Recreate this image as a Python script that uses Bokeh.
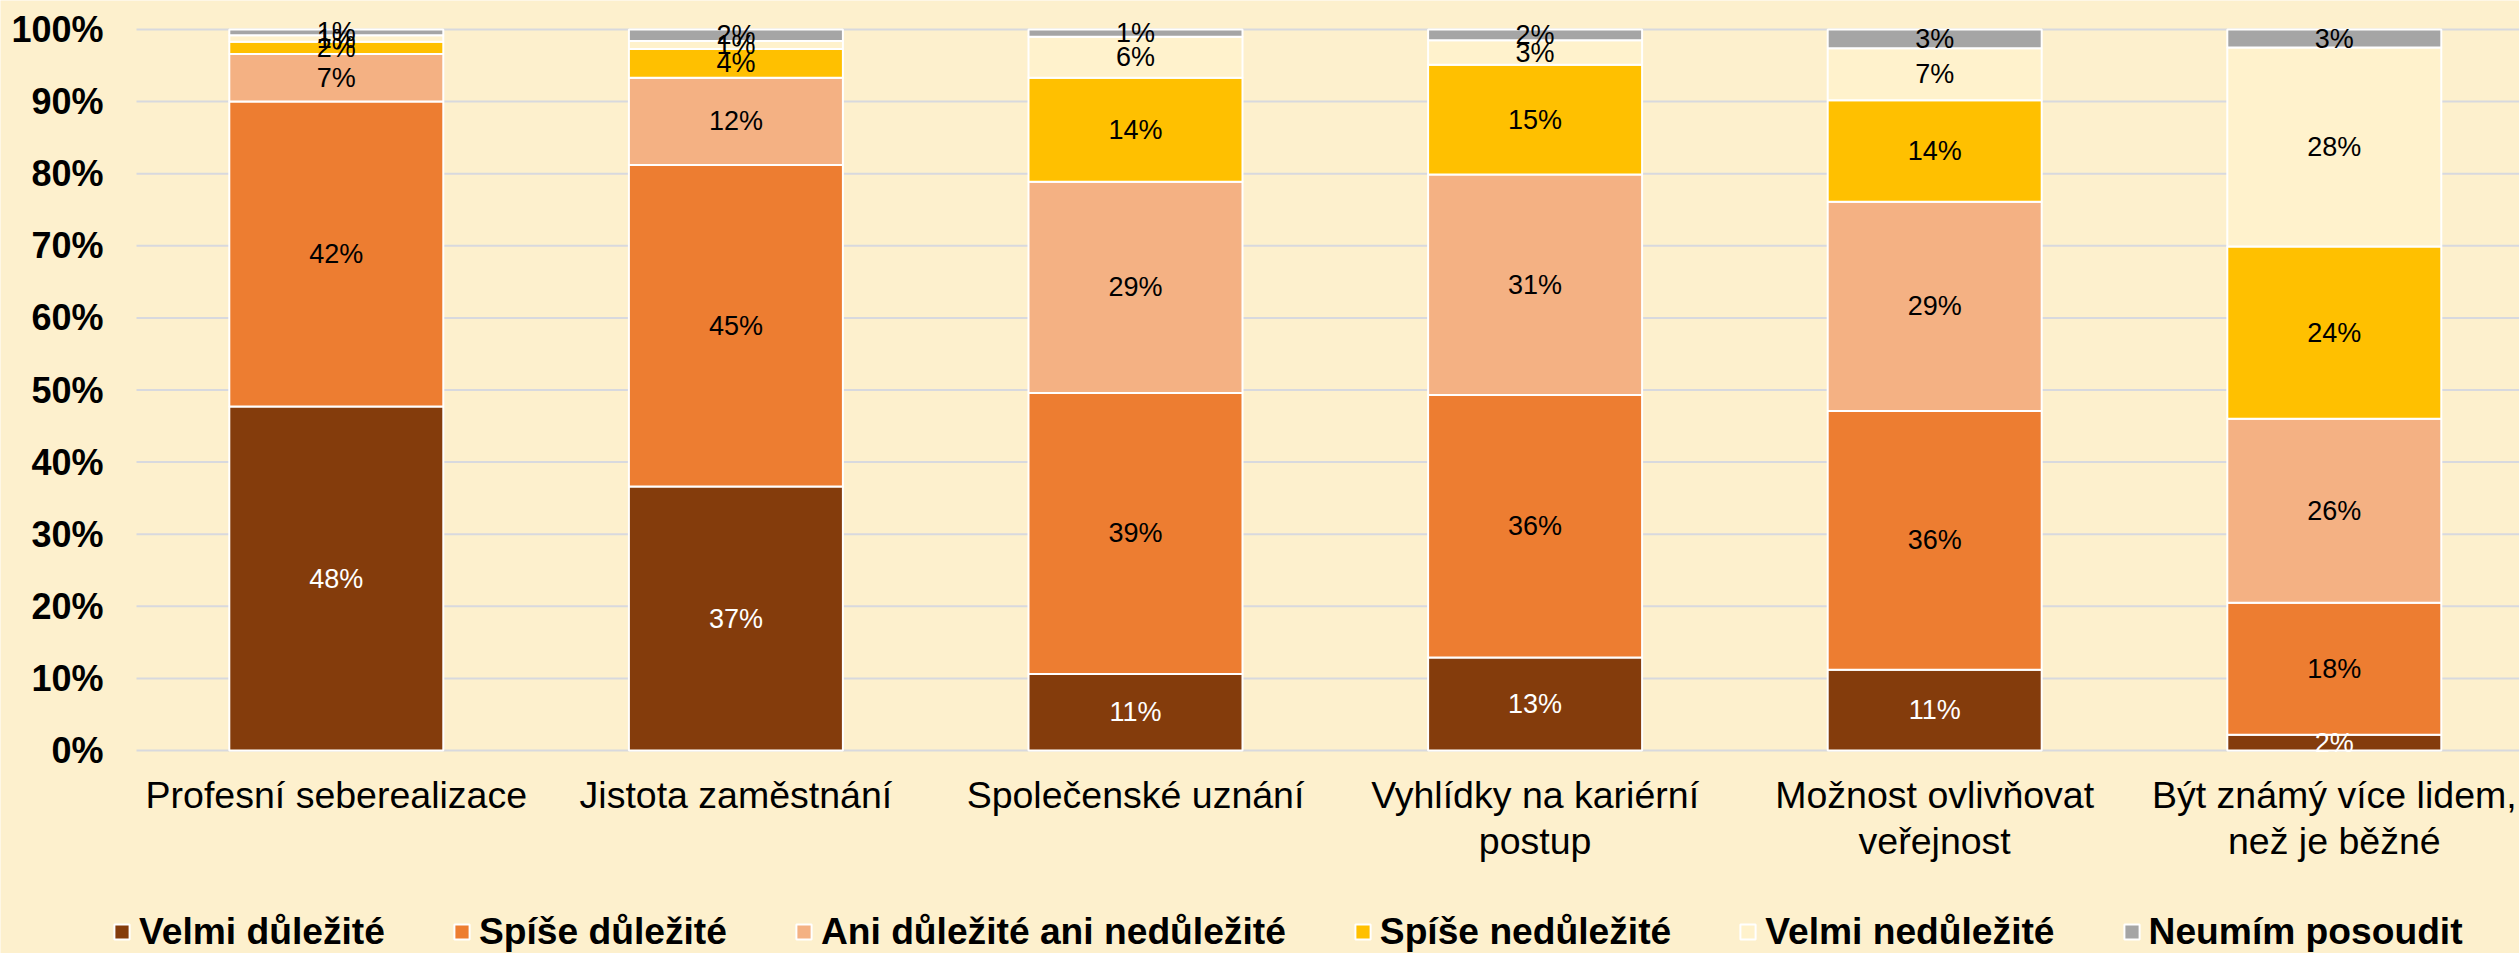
from bokeh.plotting import figure
from bokeh.models import ColumnDataSource, Range1d, Legend, LegendItem
from bokeh.core.properties import value
from bokeh.embed import file_html
from bokeh.resources import INLINE

# ---- data ----
categories = [
    "Profesní seberealizace",
    "Jistota zaměstnání",
    "Společenské uznání",
    "Vyhlídky na kariérní\npostup",
    "Možnost ovlivňovat\nveřejnost",
    "Být známý více lidem,\nnež je běžné",
]
series_names = [
    "Velmi důležité",
    "Spíše důležité",
    "Ani důležité ani nedůležité",
    "Spíše nedůležité",
    "Velmi nedůležité",
    "Neumím posoudit",
]
velmi_dulezite = [47.7, 36.6, 10.6, 12.9, 11.2, 2.2]
spise_dulezite = [42.3, 44.6, 39.0, 36.4, 35.9, 18.3]
ani_ani = [6.6, 12.1, 29.3, 30.6, 29.0, 25.5]
spise_nedulezite = [1.7, 4.0, 14.4, 15.2, 14.1, 23.9]
velmi_nedulezite = [0.9, 1.1, 5.7, 3.4, 7.2, 27.6]
neumim = [0.8, 1.6, 1.0, 1.5, 2.6, 2.5]
y_ticks = [0, 10, 20, 30, 40, 50, 60, 70, 80, 90, 100]
y_tick_labels = [f"{t}%" for t in y_ticks]

series_values = [velmi_dulezite, spise_dulezite, ani_ani,
                 spise_nedulezite, velmi_nedulezite, neumim]

# ---- styles ----
colors = ["#843C0C", "#ED7D31", "#F4B183", "#FFC000", "#FFF2CC", "#A5A5A5"]
label_colors = ["white", "black", "black", "black", "black", "black"]
BG = "#FDF0CD"
FONT = "Liberation Sans"

W, H = 2519, 953
frame_left, frame_top, frame_bottom = 136, 29, 750   # pixel layout of the plot area
cat_px = 399.6                                       # pixels per category
unit_px = (frame_bottom - frame_top) / 100.0         # pixels per percent

x_range = Range1d(-frame_left / cat_px, (W - frame_left) / cat_px)
y_range = Range1d(-(H - frame_bottom) / unit_px, 100 + frame_top / unit_px)
n = len(categories)

p = figure(width=W, height=H, output_backend="svg", toolbar_location=None,
           x_range=x_range, y_range=y_range,
           x_axis_location=None, y_axis_location=None,
           min_border=0)
p.background_fill_color = BG
p.border_fill_color = BG
p.outline_line_color = None
p.grid.visible = False

# gridlines
p.segment(x0=[0] * len(y_ticks), x1=[n] * len(y_ticks), y0=y_ticks, y1=y_ticks,
          line_color="#D8D9DE", line_width=2)

# y tick labels
p.text(x=[0] * len(y_ticks), y=y_ticks, text=y_tick_labels, x_offset=-33,
       text_align="right", text_baseline="middle", text_font=value(FONT),
       text_font_style="bold", text_font_size="36px", text_color="black")

xs = [i + 0.5 for i in range(n)]
bar_w = 214 / cat_px

# category labels
p.text(x=xs, y=[0] * n, text=categories, y_offset=23,
       text_align="center", text_baseline="top", text_font=value(FONT),
       text_font_size="37.5px", text_color="black", text_line_height=1.1)

bottoms = [0.0] * n
items = []
for name, vals, col, lcol in zip(series_names, series_values, colors, label_colors):
    tops = [b + v for b, v in zip(bottoms, vals)]
    mids = [(b + t) / 2 for b, t in zip(bottoms, tops)]
    src = ColumnDataSource(dict(x=xs, bottom=bottoms, top=tops, mid=mids,
                                txt=[f"{int(v + 0.5)}%" for v in vals]))
    r = p.vbar(x="x", bottom="bottom", top="top", width=bar_w, source=src,
               fill_color=col, line_color="white", line_width=2)
    items.append((name, r, src, lcol))
    bottoms = tops

for name, r, src, lcol in items:
    p.text(x="x", y="mid", text="txt", source=src, text_align="center",
           text_baseline="middle", text_font=value(FONT),
           text_font_size="27px", text_color=lcol)

legend = Legend(items=[LegendItem(label=nm, renderers=[r]) for nm, r, _, _ in items],
                orientation="horizontal", nrows=1, location=(112, 0),
                glyph_width=19, glyph_height=19, label_standoff=8, spacing=67,
                padding=0, margin=0, border_line_color=None,
                background_fill_alpha=0,
                label_text_font=FONT, label_text_font_style="bold",
                label_text_font_size="37.2px", label_text_color="black")
p.add_layout(legend, "center")

open("out.html", "w").write(file_html(p, INLINE))
